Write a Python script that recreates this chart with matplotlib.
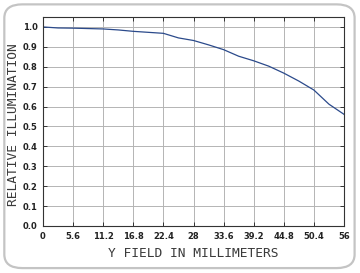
"""Relative illumination vs field height."""

import matplotlib
matplotlib.use('Agg')
import matplotlib.pyplot as plt
from matplotlib.patches import FancyBboxPatch

# ---- Data ----
field_mm = [0, 2.8, 5.6, 8.4, 11.2, 14.0, 16.8, 19.6, 22.4, 25.2, 28.0,
            30.8, 33.6, 36.4, 39.2, 42.0, 44.8, 47.6, 50.4, 53.2, 56.0]
rel_illum = [1.000, 0.995, 0.994, 0.992, 0.990, 0.985, 0.978, 0.973, 0.968,
             0.945, 0.932, 0.910, 0.886, 0.853, 0.830, 0.803, 0.768, 0.728,
             0.683, 0.612, 0.561]
x_ticks = [0, 5.6, 11.2, 16.8, 22.4, 28, 33.6, 39.2, 44.8, 50.4, 56]
x_tick_labels = ['0', '5.6', '11.2', '16.8', '22.4', '28', '33.6', '39.2',
                 '44.8', '50.4', '56']
y_ticks = [0.0, 0.1, 0.2, 0.3, 0.4, 0.5, 0.6, 0.7, 0.8, 0.9, 1.0]

C_LINE = '#2b4a8b'
C_GRID = '#b4b4b4'
C_AX = '#333333'
C_FRAME = '#c4c4c4'

fig = plt.figure(figsize=(3.6, 2.73), dpi=100)
fig.patch.set_facecolor('white')

# rounded outer frame
frame = FancyBboxPatch((0.012, 0.018), 0.973, 0.966,
                       boxstyle='round,pad=0,rounding_size=0.05',
                       transform=fig.transFigure, facecolor='none',
                       edgecolor=C_FRAME, linewidth=1.6)
fig.patches.append(frame)

ax = fig.add_axes([0.1194, 0.1722, 0.8362, 0.7655])
ax.plot(field_mm, rel_illum, color=C_LINE, linewidth=0.9)

ax.set_xlim(0, 56)
ax.set_ylim(0, 1.05)
ax.set_xticks(x_ticks)
ax.set_xticklabels(x_tick_labels)
ax.set_yticks(y_ticks)
ax.set_yticklabels(['%.1f' % v for v in y_ticks])

for lab in ax.get_xticklabels() + ax.get_yticklabels():
    lab.set_fontfamily('Liberation Sans Narrow')
    lab.set_fontweight('bold')
    lab.set_fontsize(6)
    lab.set_color('#222222')

ax.tick_params(direction='in', length=3, width=0.7, color=C_AX,
               top=True, right=True, pad=4)
ax.grid(True, color=C_GRID, linewidth=0.7)
ax.set_axisbelow(True)
for s in ax.spines.values():
    s.set_color(C_AX)
    s.set_linewidth(0.8)

ax.set_xlabel('Y FIELD IN MILLIMETERS', family='DejaVu Sans Mono',
              fontsize=9.3, color='#3a3a3a')
ax.xaxis.set_label_coords(0.5, -0.1)
ax.set_ylabel('RELATIVE ILLUMINATION', family='DejaVu Sans Mono',
              fontsize=9.3, color='#3a3a3a')
ax.yaxis.set_label_coords(-0.078, 0.483)

fig.savefig('out.png', dpi=100, facecolor='white')
plt.close(fig)
